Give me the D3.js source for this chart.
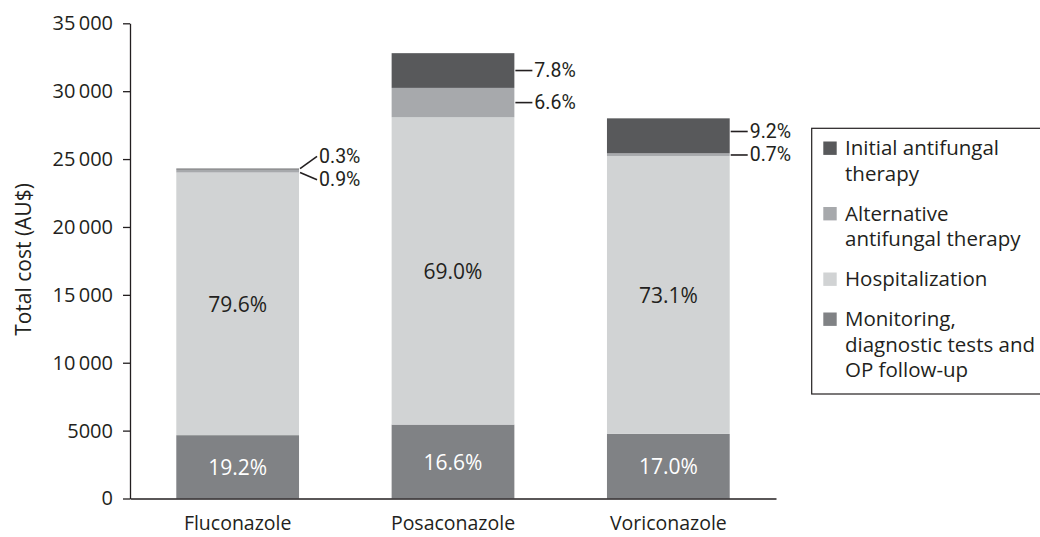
<!DOCTYPE html>
<html>
<head>
<meta charset="utf-8">
<script src="https://cdn.jsdelivr.net/npm/d3@7"></script>
<style>
  body { margin: 0; background: #fff; }
  svg { font-family: "Open Sans", sans-serif; }
</style>
</head>
<body>
<div id="chart"></div>
<script>
// Dados (AU$)
const drugs = ['Fluconazole', 'Posaconazole', 'Voriconazole'];
const monitoring = [4666, 5445, 4760];
const hospitalization = [19343, 22632, 20468];
const alternative = [219, 2165, 196];
const initial = [73, 2558, 2576];

const pctMonitoring = ['19.2%', '16.6%', '17.0%'];
const pctHospitalization = ['79.6%', '69.0%', '73.1%'];
const pctAlternative = ['0.9%', '6.6%', '0.7%'];
const pctInitial = ['0.3%', '7.8%', '9.2%'];

const yTicks = [0, 5000, 10000, 15000, 20000, 25000, 30000, 35000];

const seriesKeys = ['monitoring', 'hospitalization', 'alternative', 'initial'];
const seriesColors = {
    monitoring: '#808285',
    hospitalization: '#d1d3d4',
    alternative: '#a7a9ac',
    initial: '#58595b'
};
const legendItems = [
    {key: 'initial', lines: ['Initial antifungal', 'therapy']},
    {key: 'alternative', lines: ['Alternative', 'antifungal therapy']},
    {key: 'hospitalization', lines: ['Hospitalization']},
    {key: 'monitoring', lines: ['Monitoring,', 'diagnostic tests and', 'OP follow-up']}
];

const ink = '#231f20';
const W = 1040, H = 537;
const margin = {top: 23.3, right: 264, bottom: 38.5, left: 130};
const width = W - margin.left - margin.right;
const height = H - margin.top - margin.bottom;

const table = drugs.map((d, i) => ({
    drug: d,
    monitoring: monitoring[i],
    hospitalization: hospitalization[i],
    alternative: alternative[i],
    initial: initial[i],
    pct: {
        monitoring: pctMonitoring[i],
        hospitalization: pctHospitalization[i],
        alternative: pctAlternative[i],
        initial: pctInitial[i]
    }
}));

const stacked = d3.stack().keys(seriesKeys)(table);

const svg = d3.select('#chart').append('svg')
    .attr('width', W)
    .attr('height', H);

const g = svg.append('g')
    .attr('transform', `translate(${margin.left},${margin.top})`);

const x = d3.scaleBand()
    .domain(drugs)
    .range([0, width])
    .paddingInner(0.43)
    .paddingOuter(0.215);

const y = d3.scaleLinear()
    .domain([0, 35000])
    .range([height, 0]);

const fmt = v => v >= 10000 ? d3.format(',')(v).replace(',', '\u2009') : String(v);

// Barras empilhadas
stacked.forEach(layer => {
    g.selectAll(null)
        .data(layer)
        .enter()
        .append('rect')
        .attr('x', d => x(d.data.drug))
        .attr('y', d => y(d[1]))
        .attr('width', x.bandwidth())
        .attr('height', d => y(d[0]) - y(d[1]))
        .attr('fill', seriesColors[layer.key]);
});

// Eixo Y
const yAxis = g.append('g')
    .call(d3.axisLeft(y).tickValues(yTicks).tickFormat(fmt).tickSize(7).tickSizeOuter(0));
yAxis.select('.domain').attr('stroke', ink).attr('stroke-width', 1.3);
yAxis.selectAll('.tick line').attr('stroke', ink).attr('stroke-width', 1.3);
yAxis.selectAll('.tick text')
    .attr('x', -17)
    .attr('fill', ink)
    .style('font-size', '20px')
    .style('font-family', '"Open Sans", sans-serif');

// Eixo X
const xAxis = g.append('g')
    .attr('transform', `translate(0,${height})`)
    .call(d3.axisBottom(x).tickSize(0).tickSizeOuter(0));
xAxis.select('.domain').attr('stroke', ink).attr('stroke-width', 1.3);
xAxis.selectAll('.tick text')
    .attr('y', 31.5)
    .attr('dy', 0)
    .attr('fill', ink)
    .style('font-size', '19.5px')
    .style('font-family', '"Open Sans", sans-serif');

// Título do eixo
g.append('text')
    .attr('transform', 'rotate(-90)')
    .attr('x', -(259.5 - margin.top))
    .attr('y', -99)
    .attr('text-anchor', 'middle')
    .attr('fill', ink)
    .style('font-size', '21px')
    .text('Total cost (AU$)');

// Rótulos internos
const inside = ['monitoring', 'hospitalization'];
inside.forEach(key => {
    const layer = stacked.find(l => l.key === key);
    g.selectAll(null)
        .data(layer)
        .enter()
        .append('text')
        .attr('x', d => x(d.data.drug) + x.bandwidth() / 2)
        .attr('y', d => (y(d[0]) + y(d[1])) / 2)
        .attr('text-anchor', 'middle')
        .attr('dominant-baseline', 'central')
        .attr('fill', key === 'monitoring' ? '#fff' : ink)
        .style('font-size', '21px')
        .text(d => d.data.pct[key]);
});

// Rótulos externos com linhas de chamada
const altLayer = stacked.find(l => l.key === 'alternative');
const iniLayer = stacked.find(l => l.key === 'initial');
table.forEach((row, i) => {
    const a = altLayer[i], b = iniLayer[i];
    let m1 = (y(b[0]) + y(b[1])) / 2;
    let m2 = (y(a[0]) + y(a[1])) / 2;
    if (m2 - m1 < 23.5) {
        const c = (m1 + m2) / 2 - 2;
        m1 = c - 11.75;
        m2 = c + 11.75;
    }
    const x0 = x(row.drug) + x.bandwidth();
    const items = [
        {seg: b, ly: m1, text: row.pct.initial},
        {seg: a, ly: m2, text: row.pct.alternative}
    ];
    items.forEach(it => {
        const top = y(it.seg[1]), bot = y(it.seg[0]);
        const sy = Math.max(top, Math.min(bot, it.ly));
        g.append('line')
            .attr('x1', x0 + 1)
            .attr('y1', sy)
            .attr('x2', x0 + 18)
            .attr('y2', it.ly)
            .attr('stroke', ink)
            .attr('stroke-width', 1.6);
        g.append('text')
            .attr('x', x0 + 20)
            .attr('y', it.ly)
            .attr('dominant-baseline', 'central')
            .attr('fill', ink)
            .style('font-family', 'Roboto, sans-serif')
            .style('font-size', '19.5px')
            .text(it.text);
    });
});

// Legenda
const legend = svg.append('g');
legend.append('rect')
    .attr('x', 811.7)
    .attr('y', 128.3)
    .attr('width', 240)
    .attr('height', 265.7)
    .attr('fill', 'none')
    .attr('stroke', ink)
    .attr('stroke-width', 1.2);

let baseline = 155;
const lineH = 25.5;
legendItems.forEach(item => {
    legend.append('rect')
        .attr('x', 823.3)
        .attr('y', baseline - 13.5)
        .attr('width', 13.4)
        .attr('height', 13.4)
        .attr('fill', seriesColors[item.key]);
    item.lines.forEach((ln, j) => {
        legend.append('text')
            .attr('x', 845)
            .attr('y', baseline + j * lineH)
            .attr('fill', ink)
            .style('font-size', '20.5px')
            .text(ln);
    });
    baseline += (item.lines.length - 1) * lineH + 40;
});
</script>
</body>
</html>
